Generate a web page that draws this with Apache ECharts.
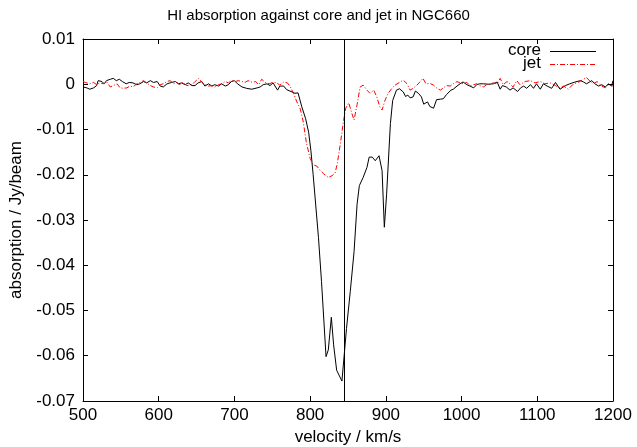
<!DOCTYPE html>
<html>
<head>
<meta charset="utf-8">
<script src="https://cdn.jsdelivr.net/npm/echarts@6/dist/echarts.min.js"></script>
<style>
html,body{margin:0;padding:0;background:#fff;}
#chart{width:637px;height:447px;}
</style>
</head>
<body>
<div id="chart"></div>
<script>
const coreVel = [500,505,509,514,518,520,525,528,531,536,540,544,548,552,557,561,566,571,575,580,584,589,593,598,602,606,611,617,622,626,630,635,639,644,648,652,657,661,666,670,674,679,683,688,692,696,700,704,710,716,723,730,734,738,743,747,751,757,760,765,769,776,780,784,789,794,798,801,804,811,815,821,824,828,831,835,842,848,853,858,862,865,870,875,878,882,886,888,891,895,898,901,906,909,914,918,923,926,929,932,936,939,943,947,950,955,958,963,967,972,976,980,986,989,994,998,1002,1007,1011,1016,1020,1024,1029,1036,1042,1047,1051,1054,1059,1064,1068,1074,1078,1082,1086,1091,1095,1099,1104,1108,1113,1119,1124,1130,1137,1143,1150,1157,1161,1165,1172,1176,1181,1185,1190,1194,1198,1200];
const coreVal = [-0.0006,-0.0008,-0.0011,-0.0008,-0.0003,0.0008,0.0006,0.0001,0.0008,0.0011,0.0013,0.0008,0.0011,0.0006,0.0001,0.0004,0.0003,-0.0001,0.0001,0.0006,0.0003,0.0008,0.0004,0.0006,-0.0004,-0.0006,0.0001,0.0004,0.0006,0.0001,0.0003,-0.0001,0.0003,-0.0003,-0.0003,0.0003,0.0006,-0.0004,0.0001,-0.0004,-0.0001,-0.0004,0.0001,-0.0004,-0.0001,0.0006,0.0008,0.0001,-0.0006,-0.0009,-0.0011,-0.0008,-0.0006,-0.0001,0.0001,-0.0003,0.0003,-0.0013,-0.0004,-0.0004,-0.0012,-0.0017,-0.002,-0.0019,-0.005,-0.0076,-0.0106,-0.0147,-0.02,-0.0339,-0.0436,-0.0602,-0.0587,-0.0515,-0.0576,-0.0632,-0.0656,-0.054,-0.0458,-0.037,-0.0265,-0.0224,-0.0206,-0.0184,-0.0161,-0.0161,-0.0169,-0.017,-0.0158,-0.0191,-0.0316,-0.0243,-0.0087,-0.0036,-0.0013,-0.001,-0.0017,-0.0027,-0.0024,-0.003,-0.0028,-0.0015,-0.002,-0.0028,-0.0044,-0.0039,-0.0049,-0.0053,-0.0034,-0.0033,-0.0032,-0.0023,-0.0013,-0.0011,-0.0004,0.0001,0.0005,-0.0001,-0.0004,-0.0008,-0.0001,0.0001,0.0001,0,0.0001,0.0005,-0.0011,-0.0003,-0.0006,-0.0013,-0.0008,-0.0016,-0.0008,-0.0004,-0.0009,-0.0001,-0.0009,0.0001,-0.0011,0.0001,-0.0004,-0.0009,0.0004,-0.0011,-0.0003,0.0001,0.0005,0.0008,0.0005,0.0001,0.0008,0.0001,-0.0004,-0.0001,-0.0006,0.0001,-0.0004,0.0008];

const jetVel = [500,503,505,509,514,518,522,528,531,536,540,545,549,553,558,562,566,571,575,580,584,589,593,598,602,606,611,615,620,624,628,632,637,644,648,653,657,661,666,670,674,679,683,688,692,696,701,705,710,714,718,724,728,732,736,741,746,750,755,760,765,770,774,778,782,787,791,795,800,804,809,813,818,824,829,833,836,840,844,847,851,855,858,862,866,870,875,879,884,888,892,895,899,903,908,912,919,923,928,932,936,941,945,949,953,958,963,967,972,976,980,985,989,994,998,1002,1007,1011,1016,1020,1024,1029,1033,1038,1042,1047,1051,1055,1060,1064,1068,1073,1077,1084,1091,1097,1104,1110,1117,1124,1130,1135,1141,1148,1154,1161,1165,1170,1174,1179,1185,1190,1194,1200];
const jetVal = [0.0006,0.0004,0.0004,0.0001,0.0004,-0.0001,0.0003,0.0001,0.0006,-0.0006,-0.0003,0.0001,-0.0008,-0.0009,-0.0008,-0.0004,-0.0006,0.0001,0.0004,0.0008,0.0003,-0.0003,-0.0006,-0.0008,-0.0001,0.0001,0.0006,0.0008,0.0001,0.0004,-0.0001,0.0004,-0.0003,-0.0001,0.0006,0.0013,0.0004,-0.0001,-0.0004,-0.0003,-0.0006,-0.0001,0.0001,0.0006,0.0003,0.0008,0.0006,0.0008,0.0006,0.0004,0.0008,0.0004,0.0006,-0.0001,0.0011,0.0004,0.0001,0.0004,0.0004,-0.0002,0.0005,0.0003,-0.0006,-0.002,-0.0037,-0.0055,-0.0084,-0.0129,-0.0164,-0.0178,-0.0181,-0.019,-0.0198,-0.0206,-0.0202,-0.0196,-0.0174,-0.013,-0.0082,-0.0053,-0.0041,-0.0064,-0.0079,-0.0045,-0.0006,-0.0002,-0.0013,-0.002,-0.0013,-0.0028,-0.005,-0.0057,-0.0035,-0.002,-0.0009,-0.0002,0.0005,0.0009,0.0001,-0.0013,-0.0009,-0.0002,0.0005,0.0013,0.0001,0.0002,-0.0002,-0.0008,-0.0013,-0.0008,-0.0003,-0.0004,0.0001,0.0006,0.0003,0.0001,0.0004,-0.0003,-0.0001,0.0001,-0.0003,-0.0006,-0.0001,0.0001,0.0003,0.0001,0.0013,-0.0001,0.0006,0.0001,-0.0006,0.0008,-0.0001,0.0006,0.0008,0.0003,0.0006,0.0001,0.0003,-0.0003,-0.0008,-0.0004,-0.0011,0.0001,0.0004,0.0011,0.0015,0.0006,0.0001,0.0006,-0.0004,-0.0008,-0.0001,-0.0004];

const systemicVel = 845;
const yTickLabels = ['-0.07','-0.06','-0.05','-0.04','-0.03','-0.02','-0.01','0','0.01'];
const seriesNames = ['core','jet'];

const FONT = '"Liberation Sans", Arial, sans-serif';
const FS = 17;
const chart = echarts.init(document.getElementById('chart'), null, {renderer:'canvas'});

const coreData = coreVel.map((v,i)=>[v, coreVal[i]]);
const jetData = jetVel.map((v,i)=>[v, jetVal[i]]);

function yFmt(val){
  const k = Math.round(val*100);
  return yTickLabels[k+7];
}

const tickStyle = {show:true, inside:true, length:5, lineStyle:{color:'#000', width:1}};
const lineStyleAxis = {show:true, onZero:false, lineStyle:{color:'#000', width:1}};
const JET_DASH = [5,2,1,2];

// key (legend) drawn as text + line samples, gnuplot style
const keyTextX = 541, keyLineX1 = 550, keyLineX2 = 596;
const keyRows = [
  {name:seriesNames[0], y:50, color:'#000000', dash:null},
  {name:seriesNames[1], y:63, color:'#ff0000', dash:JET_DASH}
];
const keyGraphics = [];
keyRows.forEach(r=>{
  keyGraphics.push({
    type:'text', x:keyTextX, y:r.y, silent:true,
    style:{text:r.name, fontSize:FS, fontFamily:FONT, fill:'#000',
      align:'right', verticalAlign:'middle', textAlign:'right', textVerticalAlign:'middle'}
  });
  const ls = {stroke:r.color, lineWidth:1};
  if (r.dash) ls.lineDash = r.dash;
  keyGraphics.push({
    type:'line', silent:true,
    shape:{x1:keyLineX1, y1:r.y + 1.5, x2:keyLineX2, y2:r.y + 1.5},
    style:ls
  });
});

chart.setOption({
  animation:false,
  backgroundColor:'#fff',
  title:{
    text:'HI absorption against core and jet in NGC660',
    left:318.5, top:8, textAlign:'center', padding:0,
    textStyle:{fontFamily:FONT, fontSize:15, fontWeight:'normal', color:'#000'}
  },
  graphic:keyGraphics,
  grid:{left:83, right:24, top:39, bottom:46, containLabel:false, outerBoundsMode:'none'},
  xAxis:[{
    type:'value', min:500, max:1200, interval:100,
    name:'velocity / km/s', nameLocation:'middle', nameGap:28,
    nameTextStyle:{fontFamily:FONT, fontSize:FS, color:'#000'},
    axisLine:lineStyleAxis, axisTick:tickStyle, splitLine:{show:false},
    axisLabel:{fontFamily:FONT, fontSize:FS, color:'#000', margin:6, formatter:v=>String(v)}
  },{
    type:'value', min:500, max:1200, interval:100, position:'top',
    axisLine:lineStyleAxis, axisTick:tickStyle, splitLine:{show:false},
    axisLabel:{show:false}
  }],
  yAxis:[{
    type:'value', min:-0.07, max:0.01, interval:0.01,
    name:'absorption / Jy/beam', nameLocation:'middle', nameGap:58, nameRotate:90,
    nameTextStyle:{fontFamily:FONT, fontSize:FS, color:'#000'},
    axisLine:lineStyleAxis, axisTick:tickStyle, splitLine:{show:false},
    axisLabel:{fontFamily:FONT, fontSize:FS, color:'#000', margin:8, formatter:yFmt}
  },{
    type:'value', min:-0.07, max:0.01, interval:0.01, position:'right',
    axisLine:lineStyleAxis, axisTick:tickStyle, splitLine:{show:false},
    axisLabel:{show:false}
  }],
  series:[{
    name:seriesNames[0], type:'line', data:coreData, showSymbol:false, symbol:'none',
    lineStyle:{color:'#000', width:1}, itemStyle:{color:'#000'},
    markLine:{
      silent:true, symbol:['none','none'], label:{show:false},
      lineStyle:{color:'#000', width:1, type:'solid'},
      data:[{xAxis:systemicVel}]
    }
  },{
    name:seriesNames[1], type:'line', data:jetData, showSymbol:false, symbol:'none',
    lineStyle:{color:'#ff0000', width:1, type:JET_DASH}, itemStyle:{color:'#ff0000'}
  }]
});
</script>
</body>
</html>
